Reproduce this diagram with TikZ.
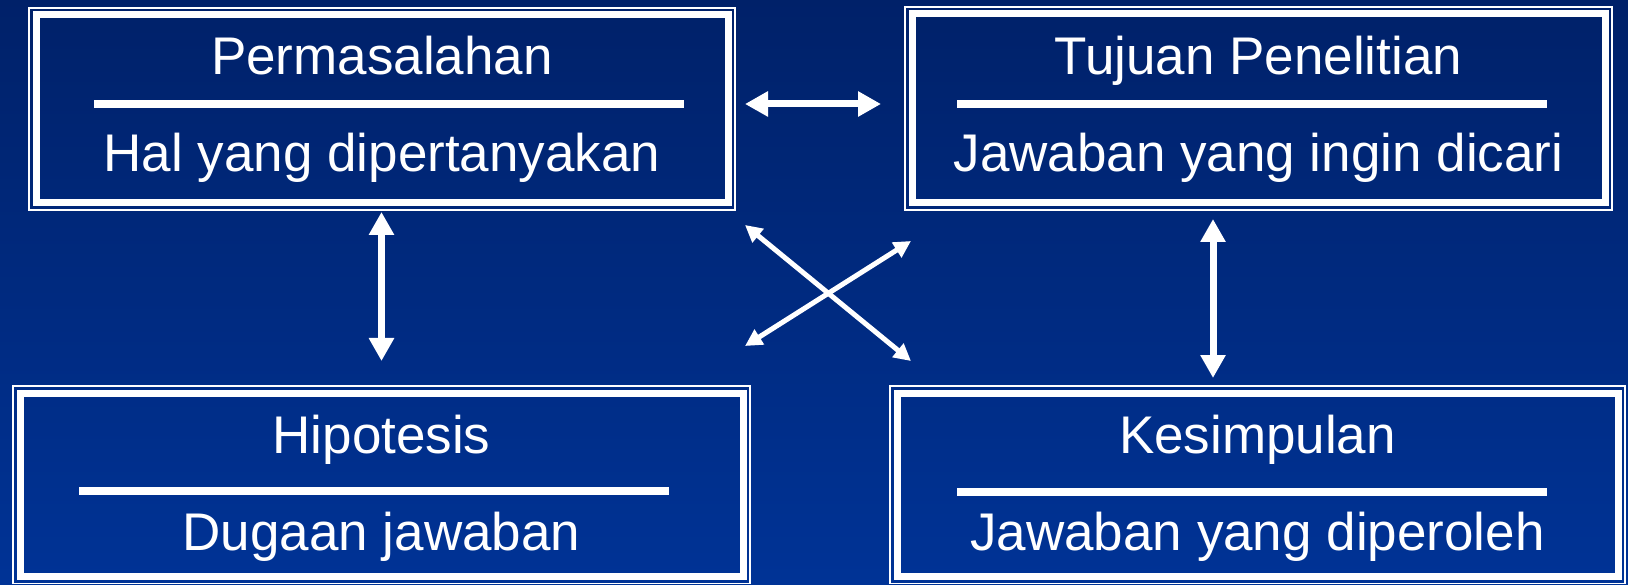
\documentclass[tikz,border=0pt]{standalone}
\usepackage{fontspec}
\setmainfont{Liberation Sans}
\usetikzlibrary{arrows.meta}
\definecolor{bgtop}{RGB}{0,33,105}
\definecolor{bgbot}{RGB}{0,51,150}
\tikzset{
  framebox/.style={draw=white, line width=7pt, inner sep=0pt, outer sep=0pt, rectangle},
  thinframe/.style={draw=white, line width=1.3pt},
  sepline/.style={draw=white, line width=8pt},
  lbl/.style={text=white, anchor=base, inner sep=0pt, font=\fontsize{53}{60}\selectfont},
  bigarrow/.style={draw=white, line width=7pt, {Triangle[width=24pt,length=23pt]}-{Triangle[width=24pt,length=23pt]}},
  diagarrow/.style={draw=white, line width=5pt, {Triangle[width=17pt,length=17pt]}-{Triangle[width=17pt,length=17pt]}}
}
\begin{document}
\begin{tikzpicture}[x=1pt,y=-1pt]
\useasboundingbox (0,0) rectangle (1628,585);
\shade[top color=bgtop, bottom color=bgbot] (0,0) rectangle (1628,585);
% boxes (thick frames)
\node[framebox, minimum width=692pt, minimum height=188pt] (perm) at (382,109) {};
\node[framebox, minimum width=693pt, minimum height=189pt] (tuj) at (1258.5,108.5) {};
\node[framebox, minimum width=723pt, minimum height=183.5pt] (hip) at (381.5,484.75) {};
\node[framebox, minimum width=721pt, minimum height=183.5pt] (kes) at (1257.5,484.75) {};
% thin outer frames
\foreach \b in {perm,tuj,hip,kes}{
  \draw[thinframe] ([xshift=-7pt,yshift=7pt]\b.north west) rectangle ([xshift=7pt,yshift=-7pt]\b.south east);
}
% separators
\coordinate (ps1) at (94,104); \coordinate (ps2) at (684,104);
\coordinate (ts1) at (957,104); \coordinate (ts2) at (1547,104);
\coordinate (hs1) at (79,491); \coordinate (hs2) at (669,491);
\coordinate (ks1) at (957,492); \coordinate (ks2) at (1547,492);
\draw[sepline] (ps1) -- (ps2);
\draw[sepline] (ts1) -- (ts2);
\draw[sepline] (hs1) -- (hs2);
\draw[sepline] (ks1) -- (ks2);
% texts
\node[lbl] (permt) at (382,75) {Permasalahan};
\node[lbl] (perms) at (382,172) {Hal yang dipertanyakan};
\node[lbl] (tujt) at (1258.5,75) {Tujuan Penelitian};
\node[lbl] (tujs) at (1258.5,172) {Jawaban yang ingin dicari};
\node[lbl] (hipt) at (381.5,453) {Hipotesis};
\node[lbl] (hips) at (381.5,550) {Dugaan jawaban};
\node[lbl] (kest) at (1257.5,453) {Kesimpulan};
\node[lbl] (kess) at (1257.5,550) {Jawaban yang diperoleh};
% arrow end points
\coordinate (h1) at (745,104); \coordinate (h2) at (881,104);
\coordinate (v1a) at (381.5,212); \coordinate (v1b) at (381.5,361);
\coordinate (v2a) at (1213,219); \coordinate (v2b) at (1213,378);
\coordinate (d1a) at (745,225); \coordinate (d1b) at (911,361);
\coordinate (d2a) at (745,346); \coordinate (d2b) at (911,241);
\draw[bigarrow] (h1) -- (h2);
\draw[bigarrow] (v1a) -- (v1b);
\draw[bigarrow] (v2a) -- (v2b);
\draw[diagarrow] (d1a) -- (d1b);
\draw[diagarrow] (d2a) -- (d2b);
\end{tikzpicture}
\end{document}
